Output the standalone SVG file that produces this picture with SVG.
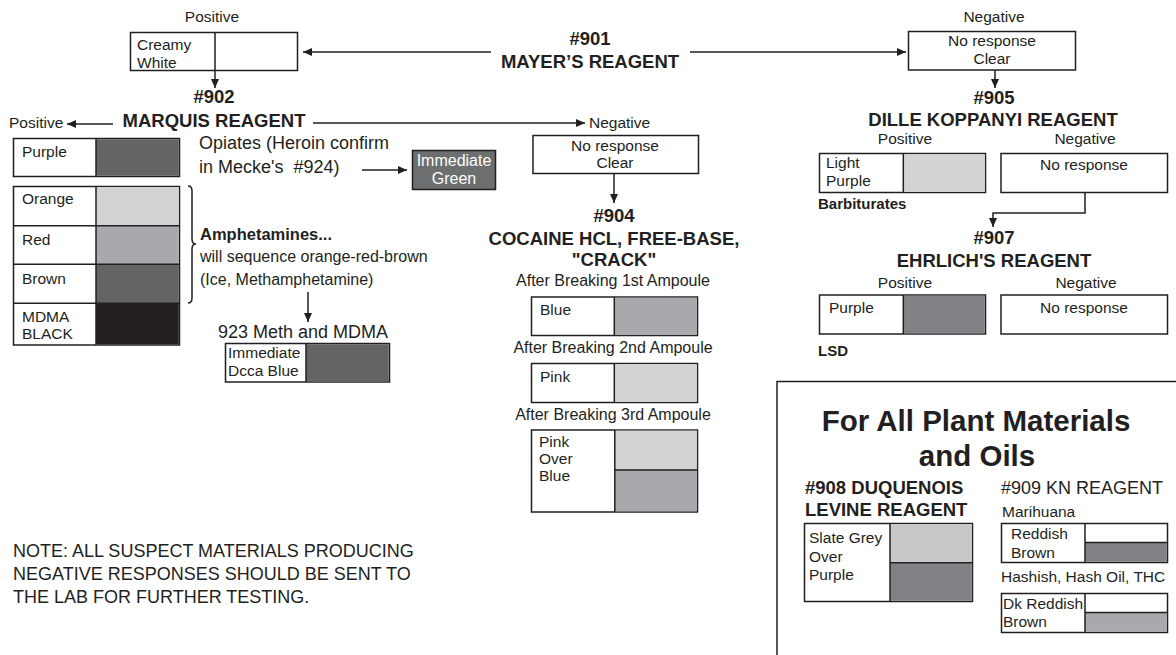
<svg xmlns="http://www.w3.org/2000/svg" width="1176" height="655" viewBox="0 0 1176 655">
<defs>
<style>
text{font-family:"Liberation Sans",Arial,sans-serif;fill:#231f20}
.s{font-size:15.5px}
.m{font-size:16px}
.l{font-size:18px}
.h{font-size:18.5px;font-weight:bold}
.hb{font-size:16.5px;font-weight:bold}
.sb{font-size:15px;font-weight:bold}
.big{font-size:29.5px;font-weight:bold}
.c{text-anchor:middle}
.bx{fill:#fff;stroke:#231f20;stroke-width:1.5}
.ln{fill:none;stroke:#231f20;stroke-width:1.5}
.g1{fill:#d1d3d4}
.g2{fill:#a7a9ac}
.g3{fill:#808285}
.g4{fill:#636466}
.g5{fill:#231f20}
</style>
<marker id="ah" markerUnits="userSpaceOnUse" markerWidth="9" markerHeight="8" refX="9" refY="4" orient="auto">
<path d="M0,0 L9,4 L0,8 z" fill="#231f20"/>
</marker>
</defs>
<rect width="1176" height="655" fill="#fff"/>

<g id="connectors" class="ln">
<line x1="491" y1="52" x2="303" y2="52" marker-end="url(#ah)"/>
<line x1="690" y1="52" x2="906" y2="52" marker-end="url(#ah)"/>
<line x1="215" y1="70" x2="215" y2="88" marker-end="url(#ah)"/>
<line x1="113" y1="124" x2="67" y2="124" marker-end="url(#ah)"/>
<line x1="313" y1="123" x2="585" y2="123" marker-end="url(#ah)"/>
<line x1="362" y1="170" x2="407" y2="170" marker-end="url(#ah)"/>
<line x1="308" y1="292" x2="308" y2="322" marker-end="url(#ah)"/>
<line x1="614" y1="173" x2="614" y2="203" marker-end="url(#ah)"/>
<line x1="995" y1="70" x2="995" y2="88" marker-end="url(#ah)"/>
<polyline points="1085,193 1085,213 993,213 993,227" marker-end="url(#ah)"/>
<path d="M188,186 Q192,186 192,191 L192,239 Q192,244 196,244 Q192,244 192,249 L192,298 Q192,303 188,303"/>
</g>

<g id="mayer">
<text class="h c" x="590" y="45">#901</text>
<text class="h c" x="590" y="68">MAYER’S REAGENT</text>
</g>

<g id="mayer-positive">
<text class="s c" x="212" y="22">Positive</text>
<rect class="bx" x="130.5" y="32.5" width="167" height="38"/>
<line class="ln" x1="215" y1="32.5" x2="215" y2="70.5"/>
<text class="s" x="137" y="50">Creamy</text>
<text class="s" x="137" y="68">White</text>
</g>

<g id="mayer-negative">
<text class="s c" x="994" y="22">Negative</text>
<rect class="bx" x="908.5" y="31.5" width="167" height="38.5"/>
<text class="s c" x="992" y="46">No response</text>
<text class="s c" x="992" y="64">Clear</text>
</g>

<g id="marquis">
<text class="h c" x="214" y="103">#902</text>
<text class="h c" x="214" y="127">MARQUIS REAGENT</text>
<text class="s" x="9" y="128">Positive</text>
<text class="s" x="589" y="128">Negative</text>
</g>

<g id="marquis-purple">
<rect class="bx" x="13.5" y="138.5" width="166" height="38"/>
<rect class="g4" x="96" y="139.2" width="82.8" height="36.6"/>
<line class="ln" x1="96" y1="138.5" x2="96" y2="176.5"/>
<text class="s" x="22" y="157">Purple</text>
</g>

<g id="opiates">
<text class="l" x="199" y="149">Opiates (Heroin confirm</text>
<text class="l" x="199" y="173" xml:space="preserve">in Mecke's  #924)</text>
<rect x="412.5" y="150.5" width="83" height="39" fill="#6d6e70" stroke="#231f20" stroke-width="1.5"/>
<text class="m c" x="454" y="166" style="fill:#fff">Immediate</text>
<text class="m c" x="454" y="184" style="fill:#fff">Green</text>
</g>

<g id="marquis-sequence">
<rect class="bx" x="13.5" y="186.5" width="166" height="158.5"/>
<rect class="g1" x="96" y="187.2" width="82.8" height="38.5"/>
<rect class="g2" x="96" y="225.7" width="82.8" height="38.6"/>
<rect class="g4" x="96" y="264.3" width="82.8" height="39"/>
<rect class="g5" x="96" y="303.3" width="82.8" height="41"/>
<line class="ln" x1="13.5" y1="225.7" x2="179.5" y2="225.7"/>
<line class="ln" x1="13.5" y1="264.3" x2="179.5" y2="264.3"/>
<line class="ln" x1="13.5" y1="303.3" x2="179.5" y2="303.3"/>
<line class="ln" x1="96" y1="186.5" x2="96" y2="345"/>
<text class="s" x="22" y="204">Orange</text>
<text class="s" x="22" y="245">Red</text>
<text class="s" x="22" y="284">Brown</text>
<text class="s" x="22" y="322">MDMA</text>
<text class="s" x="22" y="339">BLACK</text>
</g>

<g id="amphetamines">
<text class="hb" x="200" y="240">Amphetamines...</text>
<text class="m" x="200" y="262">will sequence orange-red-brown</text>
<text class="m" x="200" y="285">(Ice, Methamphetamine)</text>
</g>

<g id="meth-mdma">
<text class="l" x="218" y="338">923 Meth and MDMA</text>
<rect class="bx" x="225.5" y="343.5" width="164" height="38.5"/>
<rect class="g4" x="306" y="344.2" width="82.8" height="37.1"/>
<line class="ln" x1="306" y1="343.5" x2="306" y2="382"/>
<text class="s" x="228" y="358">Immediate</text>
<text class="s" x="228" y="376">Dcca Blue</text>
</g>

<g id="marquis-negative">
<rect class="bx" x="533" y="135.5" width="165.5" height="38"/>
<text class="s c" x="615" y="151">No response</text>
<text class="s c" x="615" y="168">Clear</text>
</g>

<g id="cocaine">
<text class="h c" x="614" y="222">#904</text>
<text class="h c" x="614" y="245">COCAINE HCL, FREE-BASE,</text>
<text class="h c" x="614" y="266">"CRACK"</text>
</g>

<g id="ampoule1">
<text class="m c" x="613" y="286">After Breaking 1st Ampoule</text>
<rect class="bx" x="531.5" y="297" width="166" height="38.5"/>
<rect class="g2" x="614.3" y="297.7" width="82.5" height="37.1"/>
<line class="ln" x1="614.3" y1="297" x2="614.3" y2="335.5"/>
<text class="s" x="540" y="315">Blue</text>
</g>

<g id="ampoule2">
<text class="m c" x="613" y="353">After Breaking 2nd Ampoule</text>
<rect class="bx" x="531.5" y="363.5" width="166" height="39"/>
<rect class="g1" x="614.3" y="364.2" width="82.5" height="37.6"/>
<line class="ln" x1="614.3" y1="363.5" x2="614.3" y2="402.5"/>
<text class="s" x="540" y="382">Pink</text>
</g>

<g id="ampoule3">
<text class="m c" x="613" y="420">After Breaking 3rd Ampoule</text>
<rect class="bx" x="531.5" y="430" width="166" height="82"/>
<rect class="g1" x="614.8" y="430.7" width="82" height="39.3"/>
<rect class="g2" x="614.8" y="470" width="82" height="41.3"/>
<line class="ln" x1="614.8" y1="470" x2="697.5" y2="470"/>
<line class="ln" x1="614.8" y1="430" x2="614.8" y2="512"/>
<text class="s" x="539" y="447">Pink</text>
<text class="s" x="539" y="464">Over</text>
<text class="s" x="539" y="481">Blue</text>
</g>

<g id="dille">
<text class="h c" x="994" y="104">#905</text>
<text class="h c" x="993" y="126">DILLE KOPPANYI REAGENT</text>
<text class="s c" x="905" y="144">Positive</text>
<text class="s c" x="1085" y="144">Negative</text>
</g>

<g id="dille-positive">
<rect class="bx" x="819.5" y="153.5" width="166" height="39"/>
<rect class="g1" x="903.3" y="154.2" width="81.5" height="37.6"/>
<line class="ln" x1="903.3" y1="153.5" x2="903.3" y2="192.5"/>
<text class="s" x="826" y="168">Light</text>
<text class="s" x="826" y="186">Purple</text>
<text class="sb" x="818" y="209">Barbiturates</text>
</g>

<g id="dille-negative">
<rect class="bx" x="1001" y="153.5" width="166.5" height="39"/>
<text class="s c" x="1084" y="170">No response</text>
</g>

<g id="ehrlich">
<text class="h c" x="994" y="244">#907</text>
<text class="h c" x="994" y="267">EHRLICH'S REAGENT</text>
<text class="s c" x="905" y="288">Positive</text>
<text class="s c" x="1086" y="288">Negative</text>
</g>

<g id="ehrlich-positive">
<rect class="bx" x="819.5" y="295" width="166" height="39"/>
<rect class="g3" x="903.3" y="295.7" width="81.5" height="37.6"/>
<line class="ln" x1="903.3" y1="295" x2="903.3" y2="334"/>
<text class="s" x="829" y="313">Purple</text>
<text class="sb" x="818" y="356">LSD</text>
</g>

<g id="ehrlich-negative">
<rect class="bx" x="1001" y="295" width="166.5" height="39"/>
<text class="s c" x="1084" y="313">No response</text>
</g>

<g id="plant-panel">
<path class="ln" d="M777,655 L777,381.5 L1177,381.5"/>
<text class="big c" x="976" y="431">For All Plant Materials</text>
<text class="big c" x="977" y="466">and Oils</text>
</g>

<g id="duquenois">
<text class="h" x="805" y="494">#908 DUQUENOIS</text>
<text class="h" x="805" y="516">LEVINE REAGENT</text>
<rect class="bx" x="804.5" y="523.5" width="168" height="78"/>
<rect x="890" y="524.2" width="81.8" height="38.5" fill="#c7c8ca"/>
<rect class="g3" x="890" y="562.7" width="81.8" height="38.1"/>
<line class="ln" x1="890" y1="562.7" x2="972.5" y2="562.7"/>
<line class="ln" x1="890" y1="523.5" x2="890" y2="601.5"/>
<text class="s" x="809" y="543">Slate Grey</text>
<text class="s" x="809" y="562">Over</text>
<text class="s" x="809" y="580">Purple</text>
</g>

<g id="kn">
<text class="l" x="1001" y="494">#909 KN REAGENT</text>
<text class="s" x="1002" y="517">Marihuana</text>
<rect class="bx" x="1001.5" y="523.5" width="166" height="39"/>
<rect class="g3" x="1085" y="542.5" width="81.8" height="19.3"/>
<line class="ln" x1="1085" y1="542.5" x2="1167.5" y2="542.5"/>
<line class="ln" x1="1085" y1="523.5" x2="1085" y2="562.5"/>
<text class="s" x="1011" y="539">Reddish</text>
<text class="s" x="1011" y="558">Brown</text>
<text class="s" x="1001" y="582">Hashish, Hash Oil, THC</text>
<rect class="bx" x="1001.5" y="593.5" width="166" height="39"/>
<rect class="g2" x="1085" y="612.5" width="81.8" height="19.3"/>
<line class="ln" x1="1085" y1="612.5" x2="1167.5" y2="612.5"/>
<line class="ln" x1="1085" y1="593.5" x2="1085" y2="632.5"/>
<text class="s" x="1003" y="609">Dk Reddish</text>
<text class="s" x="1003" y="627">Brown</text>
</g>

<g id="note">
<text class="l" x="13" y="557">NOTE: ALL SUSPECT MATERIALS PRODUCING</text>
<text class="l" x="13" y="580">NEGATIVE RESPONSES SHOULD BE SENT TO</text>
<text class="l" x="13" y="603">THE LAB FOR FURTHER TESTING.</text>
</g>
</svg>
